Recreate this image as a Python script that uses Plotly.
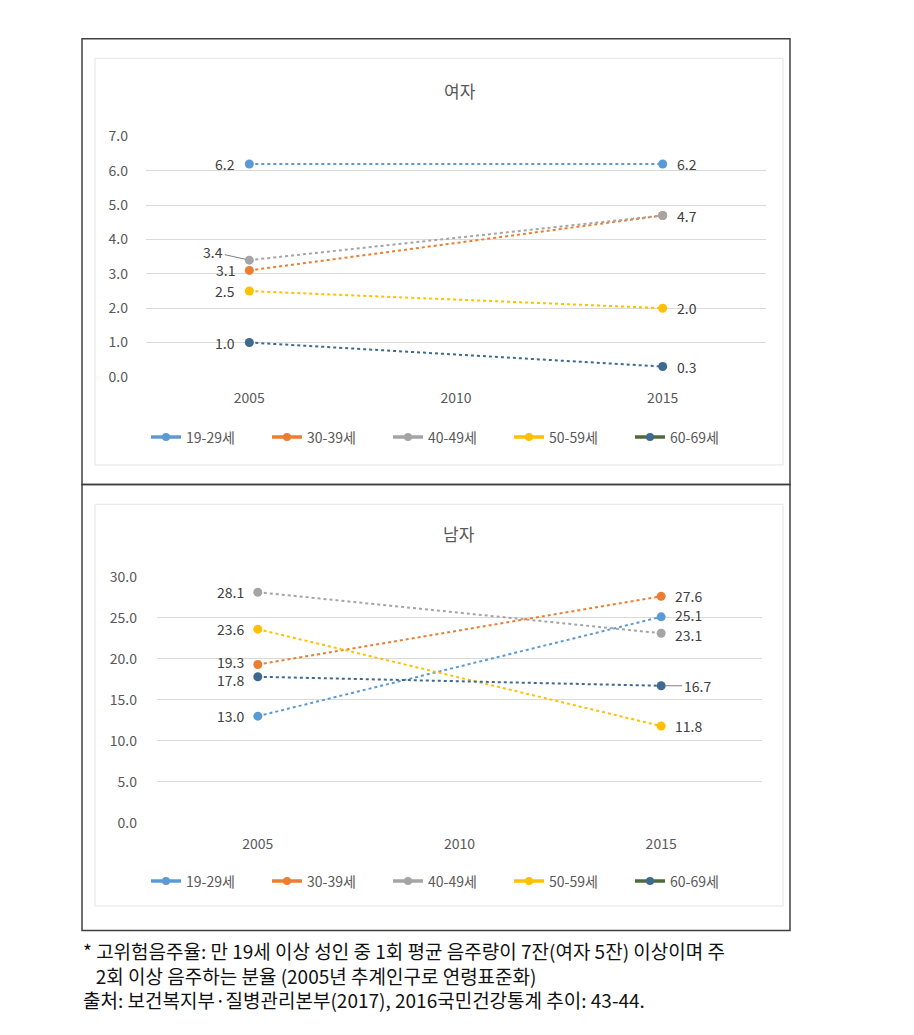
import plotly.graph_objects as go

# page body has an 8px default margin; the figure is sized to fit the window exactly
PAGE_W, PAGE_H, OFF = 914, 1035, 8
W, H = PAGE_W - 2 * OFF, PAGE_H - 2 * OFF

years = ["2005", "2010", "2015"]
data_years = ["2005", "2015"]
groups = ["19-29세", "30-39세", "40-49세", "50-59세", "60-69세"]
colors = ["#5B9BD5", "#ED7D31", "#A5A5A5", "#FFC000", "#3E6A90"]
legend_line_colors = ["#5B9BD5", "#ED7D31", "#A5A5A5", "#FFC000", "#4F6B3E"]

women = [[6.2, 6.2], [3.1, 4.7], [3.4, 4.7], [2.5, 2.0], [1.0, 0.3]]
men = [[13.0, 25.1], [19.3, 27.6], [28.1, 23.1], [23.6, 11.8], [17.8, 16.7]]

women_title = "여자"
men_title = "남자"
y_ticks_w = [0, 1, 2, 3, 4, 5, 6, 7]
y_ticks_m = [0, 5, 10, 15, 20, 25, 30]

notes = [
    "* 고위험음주율: 만 19세 이상 성인 중 1회 평균 음주량이 7잔(여자 5잔) 이상이며 주",
    "2회 이상 음주하는 분율 (2005년 추계인구로 연령표준화)",
    "출처: 보건복지부·질병관리본부(2017), 2016국민건강통계 추이: 43-44.",
]

# label placement styling (per group: [2005 label, 2015 label])
# each entry: (show, yshift, leader_line)
women_lbl = [[(1, 0, 0), (1, 0, 0)], [(1, 0, 0), (0, 0, 0)], [(1, 8, 1), (1, 0, 0)],
             [(1, 0, 0), (1, 0, 0)], [(1, 0, 0), (1, 0, 0)]]
men_lbl = [[(1, 0, 0), (1, 2, 0)], [(1, 2, 0), (1, 0, 0)], [(1, 0, 0), (1, -2, 0)],
           [(1, 0, 0), (1, 0, 0)], [(1, -3, 0), (1, 0, 1)]]

FONT = "Noto Sans CJK KR"


def px(x):
    return (x - OFF) / W


def py(y):
    return 1 - (y - OFF) / H


fig = go.Figure()

for i, g in enumerate(groups):
    fig.add_trace(go.Scatter(
        x=data_years, y=women[i], mode="lines+markers",
        line=dict(color=colors[i], width=2, dash="dot"),
        marker=dict(color=colors[i], size=9),
        xaxis="x", yaxis="y", showlegend=False, cliponaxis=False))
    fig.add_trace(go.Scatter(
        x=[None], y=[None], mode="lines+markers", name=g,
        line=dict(color=legend_line_colors[i], width=3.5),
        marker=dict(color=colors[i], size=8),
        xaxis="x", yaxis="y", legend="legend"))
    fig.add_trace(go.Scatter(
        x=data_years, y=men[i], mode="lines+markers",
        line=dict(color=colors[i], width=2, dash="dot"),
        marker=dict(color=colors[i], size=9),
        xaxis="x2", yaxis="y2", showlegend=False, cliponaxis=False))
    fig.add_trace(go.Scatter(
        x=[None], y=[None], mode="lines+markers", name=g,
        line=dict(color=legend_line_colors[i], width=3.5),
        marker=dict(color=colors[i], size=8),
        xaxis="x2", yaxis="y2", legend="legend2"))

axis_font = dict(size=14, color="#595959", family=FONT)

xcommon = dict(type="category", categoryorder="array", categoryarray=years,
               range=[-0.5, 2.5], showgrid=False, showline=False, ticks="",
               tickfont=axis_font, zeroline=False, ticklabelstandoff=10)

fig.update_layout(
    width=W, height=H, margin=dict(l=0, r=0, t=0, b=0),
    paper_bgcolor="white", plot_bgcolor="white",
    font=dict(family=FONT),
    xaxis=dict(domain=[px(146), px(766)], anchor="y", **xcommon),
    yaxis=dict(domain=[py(374), py(128)], anchor="x", range=[-0.02, 7.02],
               tickvals=y_ticks_w, ticktext=[f"{v:.1f}" for v in y_ticks_w],
               showgrid=True, gridcolor="#D9D9D9", gridwidth=1, zeroline=False,
               tickfont=axis_font, ticks="", ticklabelstandoff=17),
    xaxis2=dict(domain=[px(157), px(762)], anchor="y2", **xcommon),
    yaxis2=dict(domain=[py(828), py(576)], anchor="x2", range=[-0.08, 30.08],
                tickvals=y_ticks_m, ticktext=[f"{v:.1f}" for v in y_ticks_m],
                showgrid=True, gridcolor="#D9D9D9", gridwidth=1, zeroline=False,
                tickfont=axis_font, ticks="", ticklabelstandoff=19),
    legend=dict(orientation="h", x=px(146), xanchor="left", y=py(435), yanchor="middle",
                font=dict(size=14, color="#595959", family=FONT),
                entrywidth=76, entrywidthmode="pixels", itemwidth=30,
                bgcolor="rgba(0,0,0,0)"),
    legend2=dict(orientation="h", x=px(146), xanchor="left", y=py(887), yanchor="middle",
                 font=dict(size=14, color="#595959", family=FONT),
                 entrywidth=76, entrywidthmode="pixels", itemwidth=30,
                 bgcolor="rgba(0,0,0,0)"),
)

shapes = [
    dict(type="rect", xref="paper", yref="paper", x0=px(82), x1=px(790), y0=py(483), y1=py(29),
         line=dict(color="#404040", width=1.5)),
    dict(type="rect", xref="paper", yref="paper", x0=px(82), x1=px(790), y0=py(937), y1=py(483),
         line=dict(color="#404040", width=1.5)),
    dict(type="rect", xref="paper", yref="paper", x0=px(95), x1=px(783), y0=py(463), y1=py(49),
         line=dict(color="#E3E3E3", width=1)),
    dict(type="rect", xref="paper", yref="paper", x0=px(95), x1=px(783), y0=py(912), y1=py(503),
         line=dict(color="#E3E3E3", width=1)),
]
fig.update_layout(shapes=shapes)

annotations = [
    dict(text=women_title, x=px(460), y=py(82), xref="paper", yref="paper",
         xanchor="center", yanchor="middle",
         showarrow=False, font=dict(size=17, color="#595959", family=FONT)),
    dict(text=men_title, x=px(459), y=py(533), xref="paper", yref="paper",
         xanchor="center", yanchor="middle",
         showarrow=False, font=dict(size=17, color="#595959", family=FONT)),
]

lbl_font = dict(size=14, color="#404040", family=FONT)
for vals_set, lbl_set, xr, yref in ((women, women_lbl, "x", "y"), (men, men_lbl, "x2", "y2")):
    for vals, lbls in zip(vals_set, lbl_set):
        for j, (yr_, v) in enumerate(zip(data_years, vals)):
            show, ys, leader = lbls[j]
            if not show:
                continue
            xi = years.index(yr_)  # category index on the axis
            side = -1 if j == 0 else 1
            if leader:
                annotations.append(dict(
                    text=f"{v:.1f}", x=xi, y=v, xref=xr, yref=yref,
                    showarrow=True, arrowhead=0, arrowwidth=1, arrowcolor="#7F7F7F",
                    ax=side * 36, ay=-ys, standoff=4, font=lbl_font))
            else:
                annotations.append(dict(
                    text=f"{v:.1f}", x=xi, y=v, xref=xr, yref=yref,
                    xanchor="right" if j == 0 else "left", yanchor="middle",
                    xshift=side * 12, yshift=ys, showarrow=False, font=lbl_font))

note_text = notes[0] + "<br>" + "&nbsp;&nbsp;&nbsp;" + notes[1] + "<br>" + notes[2]
annotations.append(dict(text=note_text, x=px(81), y=py(982), xref="paper", yref="paper",
                        xanchor="left", yanchor="middle", align="left", showarrow=False,
                        font=dict(size=19, color="#111111", family=FONT)))
fig.update_layout(annotations=annotations)

fig.write_html("out.html")
